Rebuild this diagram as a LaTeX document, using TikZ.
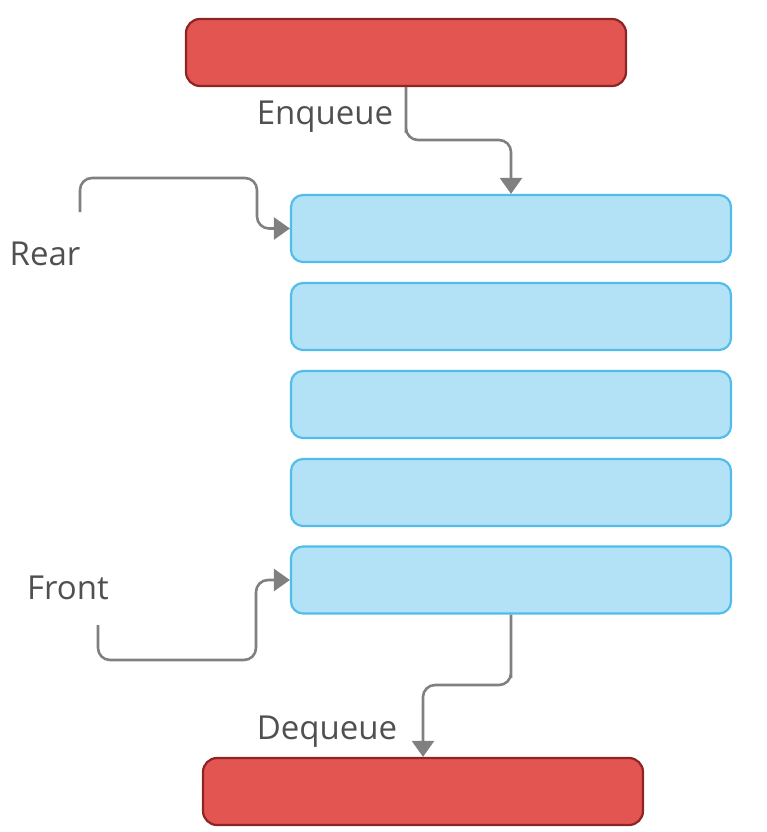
\documentclass[tikz,border=0pt]{standalone}
\usepackage{fontspec}
\setmainfont{Open Sans}
\usetikzlibrary{arrows.meta,calc}
\definecolor{redfill}{HTML}{E25550}
\definecolor{redline}{HTML}{8E2424}
\definecolor{bluefill}{HTML}{B3E2F7}
\definecolor{blueline}{HTML}{50BDEB}
\definecolor{conncol}{HTML}{808080}
\definecolor{textcol}{HTML}{505050}
\tikzset{
  redbox/.style={draw=redline, fill=redfill, line width=2.2pt, rounded corners=14pt, minimum width=440pt, minimum height=67pt, inner sep=0pt},
  bluebox/.style={draw=blueline, fill=bluefill, line width=2.2pt, rounded corners=12pt, minimum width=440pt, minimum height=67pt, inner sep=0pt},
  conn/.style={draw=conncol, line width=2.6pt, rounded corners=12pt, -{Triangle[width=22pt,length=16pt]}},
  lbl/.style={text=textcol, font=\fontsize{33}{38}\selectfont, inner sep=0pt}
}
\begin{document}
\begin{tikzpicture}[x=1pt,y=-1pt]
\useasboundingbox (0,0) rectangle (767,832);
\node[redbox] (top) at (406,52.5) {};
\node[bluebox] (b1) at (511,228.5) {};
\node[bluebox] (b2) at (511,316.5) {};
\node[bluebox] (b3) at (511,404.5) {};
\node[bluebox] (b4) at (511,492.5) {};
\node[bluebox] (b5) at (511,580) {};
\node[redbox] (bot) at (423,791.5) {};
\node[lbl] (enq) at (325,117) {Enqueue};
\node[lbl] (deq) at (327,732) {Dequeue};
\node[lbl] (rear) at (45,254) {Rear};
\node[lbl] (front) at (68,588) {Front};
\coordinate (rs) at (80,212);
\coordinate (rk) at (257,178);
\coordinate (fs) at (98,625);
\coordinate (fk) at (256,660);
\coordinate (ek) at (406,140);
\coordinate (dk) at (511,685);
\draw[conn] (top.south) |- (ek) -| (b1.north);
\draw[conn] (b5.south) |- (dk) -| (bot.north);
\draw[conn] (rs) |- (rk) |- (b1.west);
\draw[conn] (fs) |- (fk) |- (b5.west);
\end{tikzpicture}
\end{document}
